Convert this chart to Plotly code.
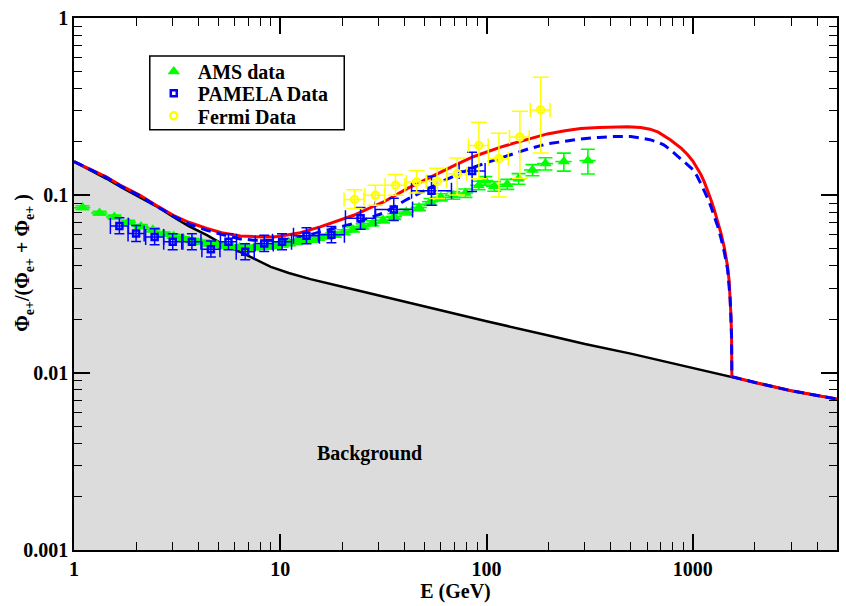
import plotly.graph_objects as go

# ---------------- data ----------------
bg_E = [1.0, 1.2, 1.44, 1.7, 2.09, 2.5, 3.03, 3.6, 4.41, 5.2, 6.4, 7.5, 9.0, 11, 14, 20, 30, 50, 70, 100,
        200, 300, 500, 700, 1000, 1546, 2000, 3000, 5000]
bg_y = [0.155, 0.139, 0.124, 0.111, 0.0978, 0.087, 0.0755, 0.067, 0.0596, 0.0535, 0.048, 0.0437, 0.0395,
        0.0365, 0.0337, 0.0305, 0.0272, 0.0236, 0.0214, 0.0195, 0.0162, 0.0145, 0.0128, 0.0117, 0.0106,
        0.0095, 0.0088, 0.0079, 0.0071]

red_E = [1.0, 1.2, 1.44, 1.7, 2.09, 2.5, 3.03, 3.6, 4.41, 5.2, 6.4, 7.42, 9.28, 10.8, 12.5, 15.6, 19.6,
         22.7, 28.4, 31.7, 41.2, 50, 59.8, 72, 86.8, 100, 117, 136, 160, 197, 240, 286, 350, 400, 482,
         559, 620, 680, 726, 780, 820, 880, 942, 1000, 1050, 1094, 1136, 1180, 1222, 1270, 1320, 1368,
         1420, 1473, 1500, 1517, 1530, 1541, 1546, 2000, 3000, 5000]
red_y = [0.155, 0.140, 0.1267, 0.113, 0.100, 0.088, 0.0772, 0.0705, 0.065, 0.0615, 0.0589, 0.0585,
         0.0583, 0.0598, 0.0615, 0.0664, 0.0724, 0.0772, 0.0870, 0.0917, 0.109, 0.122, 0.135, 0.150,
         0.1656, 0.176, 0.187, 0.197, 0.208, 0.222, 0.231, 0.238, 0.241, 0.243, 0.244, 0.241, 0.236,
         0.227, 0.217, 0.205, 0.196, 0.184, 0.170, 0.156, 0.142, 0.131, 0.119, 0.107, 0.0950, 0.0830,
         0.0720, 0.0615, 0.0510, 0.0400, 0.0330, 0.0270, 0.0210, 0.0160, 0.0095, 0.0088, 0.0079, 0.0071]

blue_E = [1.0, 1.2, 1.44, 1.7, 2.09, 2.5, 3.03, 3.6, 4.41, 5.11, 6.4, 7.42, 9.28, 10.8, 12.5, 15.6, 19.6,
          22.7, 28.4, 31.7, 41.2, 50, 59.8, 72, 86.8, 100, 117, 136, 160, 197, 240, 286, 350, 415, 500,
          559, 620, 680, 726, 780, 820, 880, 942, 1000, 1050, 1094, 1136, 1180, 1222, 1270, 1320, 1368,
          1420, 1473, 1500, 1517, 1530, 1541, 1546, 2000, 3000, 5000]
blue_y = [0.155, 0.139, 0.126, 0.112, 0.0995, 0.087, 0.0765, 0.069, 0.0635, 0.0605, 0.0568, 0.0559,
          0.0556, 0.0565, 0.058, 0.0622, 0.0664, 0.0693, 0.0760, 0.0795, 0.095, 0.106, 0.1188, 0.131,
          0.144, 0.153, 0.163, 0.173, 0.183, 0.195, 0.202, 0.208, 0.212, 0.2145, 0.2145, 0.211, 0.206,
          0.199, 0.192, 0.180, 0.171, 0.160, 0.150, 0.140, 0.128, 0.117, 0.106, 0.096, 0.0870, 0.0760,
          0.0670, 0.0575, 0.0480, 0.0385, 0.0320, 0.0262, 0.0205, 0.0158, 0.0095, 0.0088, 0.0079, 0.0071]

ams_E = [1.10, 1.33, 1.57, 1.83, 2.11, 2.41, 2.72, 3.04, 3.38, 3.74, 4.12, 4.52, 4.94, 5.39, 5.86, 6.36,
         6.89, 7.45, 8.05, 8.70, 9.40, 10.16, 11.00, 11.91, 12.92, 14.04, 15.30, 16.74, 18.40, 20.30,
         22.50, 25.04, 28.00, 31.50, 35.70, 40.80, 47.05, 53.5, 60.0, 69.0, 79.0, 91.6, 98.6, 109, 126,
         143, 167, 193, 237, 310]
ams_y = [0.0853, 0.0795, 0.0755, 0.0705, 0.0668, 0.0640, 0.0605, 0.0588, 0.0570, 0.0556, 0.0545, 0.0532,
         0.0525, 0.0518, 0.0512, 0.0510, 0.0507, 0.0508, 0.0510, 0.0513, 0.0518, 0.0526, 0.0535, 0.0545,
         0.0555, 0.0562, 0.0575, 0.0586, 0.0600, 0.0620, 0.0642, 0.0668, 0.0695, 0.0725, 0.0760, 0.0805,
         0.0855, 0.0920, 0.0975, 0.1000, 0.1030, 0.1138, 0.1210, 0.1125, 0.1155, 0.1240, 0.1390, 0.1510,
         0.1550, 0.1570]
ams_yerr = [0.0020, 0.0019, 0.0018, 0.0017, 0.0016, 0.0016, 0.0015, 0.0015, 0.0014, 0.0014, 0.0014, 0.0014,
            0.0014, 0.0014, 0.0014, 0.0014, 0.0014, 0.0014, 0.0014, 0.0014, 0.0015, 0.0015, 0.0015, 0.0016,
            0.0016, 0.0017, 0.0017, 0.0018, 0.0019, 0.0020, 0.0021, 0.0022, 0.0024, 0.0026, 0.0028, 0.0031,
            0.0035, 0.0040, 0.0045, 0.0050, 0.0056, 0.0062, 0.0068, 0.0070, 0.0075, 0.0085, 0.0100, 0.0120,
            0.0180, 0.0250]

pam_E = [1.66, 2.0, 2.46, 3.01, 3.73, 4.61, 5.61, 6.76, 8.36, 10.2, 13.4, 17.7, 24.5, 35.5, 54.1, 85.1]
pam_y = [0.0672, 0.0609, 0.0583, 0.0547, 0.0547, 0.0497, 0.0547, 0.0480, 0.0535, 0.0547, 0.0591, 0.0600,
         0.0743, 0.0832, 0.106, 0.137]
pam_yerr_up = [0.0075, 0.0068, 0.0065, 0.0060, 0.0060, 0.0055, 0.0060, 0.0053, 0.0060, 0.0060, 0.0066,
               0.0068, 0.011, 0.013, 0.022, 0.038]
pam_yerr_dn = [0.0065, 0.0060, 0.0057, 0.0053, 0.0053, 0.0048, 0.0053, 0.0047, 0.0052, 0.0053, 0.0058,
               0.0060, 0.010, 0.011, 0.018, 0.032]
pam_xerr_up = [0.176, 0.188, 0.261, 0.319, 0.395, 0.489, 0.527, 0.717, 0.886, 1.14, 2.09, 2.76, 4.48,
               8.27, 13.5, 13.3]
pam_xerr_dn = [0.159, 0.172, 0.235, 0.288, 0.357, 0.441, 0.482, 0.647, 0.80, 1.03, 1.81, 2.39, 3.80,
               6.71, 10.8, 11.5]

fermi_E = [22.9, 28.9, 36.2, 45.8, 57.6, 72.1, 91.8, 114.8, 145.1, 183]
fermi_y = [0.0946, 0.100, 0.114, 0.119, 0.120, 0.1325, 0.191, 0.161, 0.213, 0.303]
fermi_yerr_up = [0.013, 0.014, 0.017, 0.019, 0.022, 0.030, 0.067, 0.063, 0.085, 0.160]
fermi_yerr_dn = [0.0104, 0.012, 0.014, 0.016, 0.024, 0.032, 0.067, 0.063, 0.088, 0.130]

x_ticks = [1, 10, 100, 1000]
x_ticktext = ["1", "10", "100", "1000"]
y_ticks = [0.001, 0.01, 0.1, 1]
y_ticktext = ["0.001", "0.01", "0.1", "1"]

# ---------------- figure ----------------
FONT = "Liberation Serif"
fig = go.Figure()

fig.add_trace(go.Scatter(x=bg_E, y=bg_y, mode="lines", fill="tozeroy", fillcolor="#dcdcdc",
                         line=dict(color="black", width=2.5), showlegend=False, hoverinfo="skip"))
fig.add_trace(go.Scatter(x=red_E, y=red_y, mode="lines", line=dict(color="#ff0000", width=3),
                         showlegend=False))
fig.add_trace(go.Scatter(x=blue_E, y=blue_y, mode="lines",
                         line=dict(color="#0000ff", width=3, dash="10px,6px"),
                         showlegend=False))

fig.add_trace(go.Scatter(
    x=ams_E, y=ams_y, mode="markers", name="<b>AMS data</b>", legend="legend",
    marker=dict(symbol="triangle-up", size=11, color="#00ff00", line=dict(width=0)),
    error_y=dict(type="data", array=ams_yerr, color="#00ff00", thickness=1.6, width=7),
    error_x=dict(type="percent", value=9, color="#00ff00", thickness=1.6, width=0),
))
fig.add_trace(go.Scatter(
    x=pam_E, y=pam_y, mode="markers", name="<b>PAMELA Data</b>", legend="legend2",
    marker=dict(symbol="square-open", size=6, color="#0000ff", line=dict(width=2.5, color="#0000ff")),
    error_y=dict(type="data", array=pam_yerr_up, arrayminus=pam_yerr_dn, color="#0000ff", thickness=1.5, width=5),
    error_x=dict(type="data", array=pam_xerr_up, arrayminus=pam_xerr_dn, color="#0000ff", thickness=1.5, width=8),
))
fig.add_trace(go.Scatter(
    x=fermi_E, y=fermi_y, mode="markers", name="<b>Fermi Data</b>", legend="legend3",
    marker=dict(symbol="circle-open", size=7, color="#ffff00", line=dict(width=2.5, color="#ffff00")),
    error_y=dict(type="data", array=fermi_yerr_up, arrayminus=fermi_yerr_dn, color="#ffff00", thickness=1.5, width=8),
    error_x=dict(type="percent", value=11, color="#ffff00", thickness=1.5, width=7),
))

minor_x = [m * 10 ** k for k in range(0, 4) for m in range(2, 10) if m * 10 ** k < 5000]
minor_y = [m * 10.0 ** k for k in range(-3, 0) for m in range(2, 10)]

axis_common = dict(type="log", showgrid=False, zeroline=False, showline=True, linecolor="black",
                   linewidth=1.5, mirror="allticks", ticks="inside", ticklen=16, tickwidth=1.5,
                   tickcolor="black", tickfont=dict(family=FONT, size=20, color="black", weight="bold"))

fig.update_xaxes(**axis_common, range=[0, 3.69897], tickmode="array", tickvals=x_ticks, ticktext=x_ticktext,
                 minor=dict(tickmode="array", tickvals=minor_x, ticks="inside", ticklen=8, tickwidth=1.2,
                            tickcolor="black", showgrid=False),
                 title=dict(text="<b>E (GeV)</b>", font=dict(family=FONT, size=20, color="black"), standoff=2))
fig.update_yaxes(**axis_common, range=[-3, 0], tickmode="array", tickvals=y_ticks, ticktext=y_ticktext,
                 minor=dict(tickmode="array", tickvals=minor_y, ticks="inside", ticklen=8, tickwidth=1.2,
                            tickcolor="black", showgrid=False))

fig.add_annotation(text="<b>Φ<sub>e+</sub>/(Φ<sub>e+</sub> + Φ<sub>e+</sub> )</b>", xref="paper", yref="paper",
                   x=-0.0654, y=0.54, xanchor="center", yanchor="middle", textangle=-90, showarrow=False,
                   font=dict(family=FONT, size=20, color="black"))
fig.add_annotation(text="<b>Background</b>", xref="paper", yref="paper", x=0.387, y=0.182, showarrow=False,
                   xanchor="center", yanchor="middle", font=dict(family=FONT, size=20, color="black"))

# legend frame
fig.add_shape(type="rect", xref="paper", yref="paper", x0=0.0993, x1=0.3542, y0=0.7899, y1=0.9287,
              line=dict(color="black", width=1.5), fillcolor="white", layer="above")

leg_common = dict(xanchor="left", yanchor="middle", bgcolor="rgba(0,0,0,0)", borderwidth=0,
                  font=dict(family=FONT, size=20, color="black"), itemsizing="trace", itemwidth=38)
fig.update_layout(
    width=846, height=606,
    margin=dict(l=74, r=7, t=17, b=56),
    paper_bgcolor="white", plot_bgcolor="white",
    legend=dict(x=0.0993, y=0.8993, **leg_common),
    legend2=dict(x=0.0993, y=0.8587, **leg_common),
    legend3=dict(x=0.0993, y=0.8161, **leg_common),
)

fig.write_html("out.html")
